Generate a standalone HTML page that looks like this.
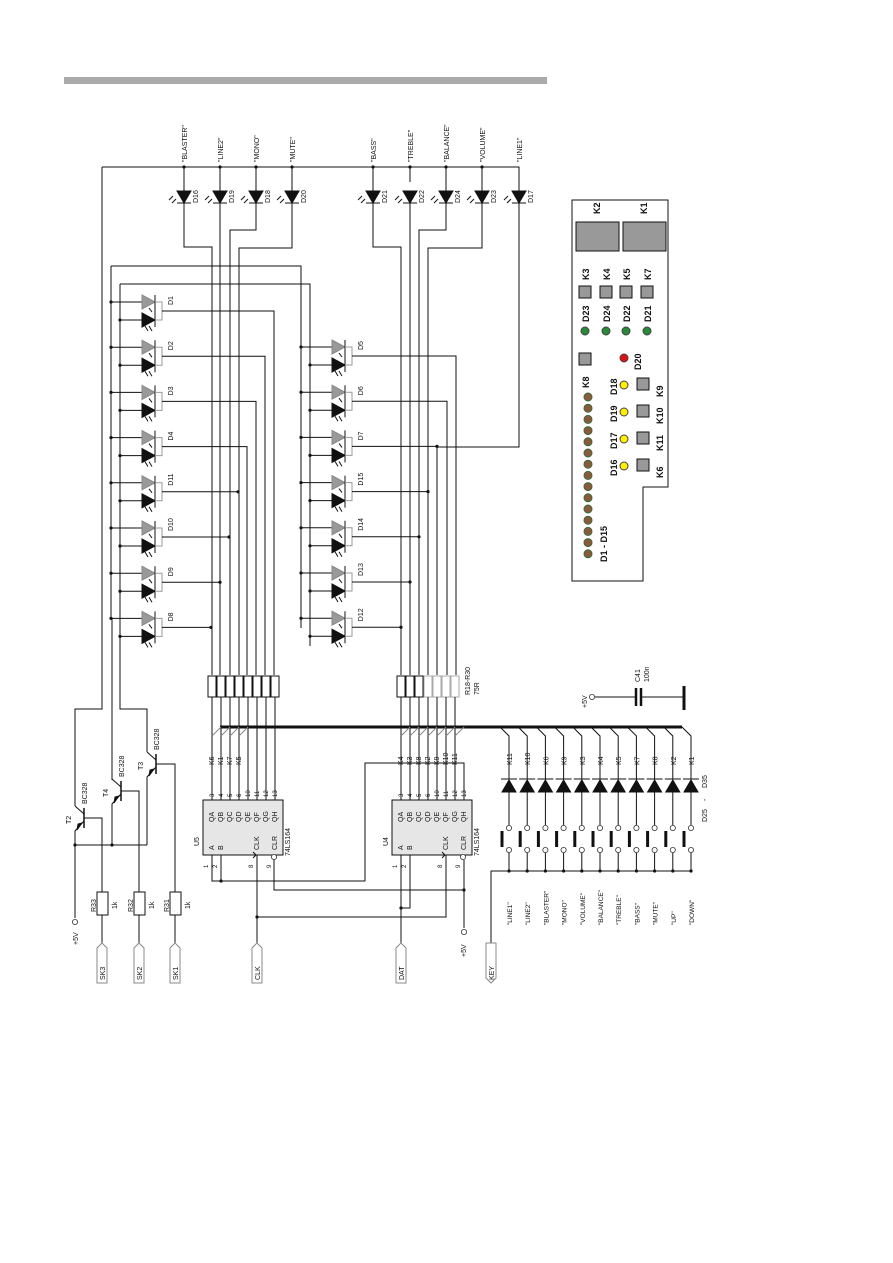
<!DOCTYPE html>
<html><head><meta charset="utf-8"><style>
html,body{margin:0;padding:0;background:#fff}
svg{display:block}
text{font-family:"Liberation Sans",sans-serif;font-size:7px;fill:#111}
</style></head><body>
<svg id="s" width="893" height="1263" viewBox="0 0 893 1263" xmlns="http://www.w3.org/2000/svg">
<rect x="64" y="77" width="483" height="7" fill="#aaa"/>
<g id="g" stroke="#111" stroke-width="1" fill="none"></g>
<g id="t"></g>
</svg>
<script>
(function(){
var g=document.getElementById('g'),T=document.getElementById('t'),NS='http://www.w3.org/2000/svg';
function el(p,n,a){var e=document.createElementNS(NS,n);for(var k in a)e.setAttribute(k,a[k]);p.appendChild(e);return e;}
function L(pts,c,w){el(g,'polyline',{points:pts,stroke:c||'#111','stroke-width':w||1});}
function dot(x,y){el(g,'circle',{cx:x,cy:y,r:1.6,fill:'#111',stroke:'none'});}
function oc(x,y){el(g,'circle',{cx:x,cy:y,r:2.6,fill:'#fff',stroke:'#333','stroke-width':0.8});}
function tx(x,y,s,rot,sz,anch,bold){var e=el(T,'text',{x:x,y:y});if(rot)e.setAttribute('transform','rotate(-90 '+x+' '+y+')');var st='';if(sz)st+='font-size:'+sz+'px;';if(bold)st+='font-weight:bold;';if(st)e.setAttribute('style',st);if(anch)e.setAttribute('text-anchor',anch);e.textContent=s;}
L('102,167 519,167 519,191');
var tops=[[184,'"BLASTER"','D16'],[220,'"LINE2"','D19'],[256,'"MONO"','D18'],[292,'"MUTE"','D20'],[373,'"BASS"','D21'],[410,'"TREBLE"','D22'],[446,'"BALANCE"','D24'],[482,'"VOLUME"','D23'],[519,'"LINE1"','D17']];
tops.forEach(function(a){var x=a[0];
 if(x!=519){dot(x,167);} if(x==410)L('410,167 410,182');
 if(x!=410&&x!=519)L(x+',167 '+x+',191');
 tx(x+3,162,a[1],1);
 el(g,'polygon',{points:(x-7)+',191 '+(x+7)+',191 '+x+',203',fill:'#111'});
 L((x-7)+',203 '+(x+7)+',203');
 L((x-11)+',196 '+(x-15)+',200');L((x-8)+',199 '+(x-12)+',203');
 tx(x+14,203,a[2],1);
});
L('184,203 184,247 212,247 212,675');L('220,203 220,675');L('256,203 256,230 230,230 230,675');L('292,203 292,248 239,248 239,675');
L('373,203 373,247 401,247 401,675');L('410,203 410,675');L('446,203 446,230 419,230 419,675');L('482,203 482,248 428,248 428,675');
L('519,203 519,447 437,447');
L('111,266 301,266 301,628');L('120,284 310,284 310,646');
L('111,266 111,618');L('120,284 120,709 147,709 147,752');
L('102,167 102,709 75,709 75,806');
L('112,618 112,780');
function pair(x0,y,lab){
 var bx=x0,by=x0+9;
 dot(bx,y);dot(by,y+18);
 L(bx+','+y+' '+(x0+31)+','+y);L(by+','+(y+18)+' '+(x0+31)+','+(y+18));
 el(g,'polygon',{points:(x0+31)+','+(y-7)+' '+(x0+31)+','+(y+7)+' '+(x0+44)+','+y,fill:'#999',stroke:'#888'});
 el(g,'polygon',{points:(x0+31)+','+(y+11)+' '+(x0+31)+','+(y+25)+' '+(x0+44)+','+(y+18),fill:'#111'});
 L((x0+44)+','+(y-7)+' '+(x0+44)+','+(y+25));
 L((x0+44)+','+y+' '+(x0+51)+','+y+' '+(x0+51)+','+(y+18)+' '+(x0+44)+','+(y+18),'#999');
 L((x0+38)+','+(y+6)+' '+(x0+41)+','+(y+10));L((x0+38)+','+(y+24)+' '+(x0+41)+','+(y+29));L((x0+34)+','+(y+24)+' '+(x0+37)+','+(y+29));
 tx(x0+62,y+3,lab,1);
}
var lm=[['D1',274],['D2',265],['D3',256],['D4',247],['D11',238],['D10',229],['D9',220],['D8',211]];
lm.forEach(function(a,i){var y=302+i*45.2;pair(111,y,a[0]);
 var oy=y+9;L('162,'+oy+' '+a[1]+','+oy+(i<4?' '+a[1]+',675':''));if(i>=4)dot(a[1],oy);});
var rm=[['D5',456],['D6',447],['D7',437],['D15',428],['D14',419],['D13',410],['D12',401]];
rm.forEach(function(a,i){var y=347+i*45.2;pair(301,y,a[0]);
 var oy=y+9;L('352,'+oy+' '+a[1]+','+oy+(i<2?' '+a[1]+',675':''));if(i>=2)dot(a[1],oy);});
var lx=[212,221,230,239,248,257,266,275],rx=[401,410,419,428,437,446,455];
lx.forEach(function(x){el(g,'rect',{x:x-4,y:676,width:8,height:21,fill:'#fff'});L(x+',697 '+x+',800');});
rx.forEach(function(x,i){el(g,'rect',{x:x-4,y:676,width:8,height:21,fill:'#fff',stroke:i<3?'#111':'#aaa'});L(x+',697 '+x+',800');});
L('437,447 437,675');
tx(470,695,'R18-R30',1);tx(479,695,'75R',1);
L('220,727 682,727','#111',3);
[212,221,230,239].forEach(function(x){L(x+',736 '+(x+9)+',727','#888');});
rx.forEach(function(x){L(x+',736 '+(x+9)+',727','#888');});
['K6','K1','K7','K5'].forEach(function(k,i){tx(lx[i]+2,765,k,1);});
['K4','K3','K8','K2','K9','K10','K11'].forEach(function(k,i){tx(rx[i]+2,765,k,1);});
function chip(x0,name){el(g,'rect',{x:x0,y:800,width:80,height:55,fill:'#e6e6e6'});
 var q=['QA','QB','QC','QD','QE','QF','QG','QH'],p=['3','4','5','6','10','11','12','13'];
 q.forEach(function(s,i){var x=x0+8+i*9;tx(x+3,822,s,1);tx(x+3,797,p[i],1,6);});
 tx(x0+11,850,'A',1);tx(x0+20,850,'B',1);tx(x0+56,850,'CLK',1);tx(x0+74,850,'CLR',1);tx(x0+87,856,'74LS164',1);tx(x0-4,846,name,1);
 tx(x0+5,868,'1',1,6);tx(x0+14,868,'2',1,6);tx(x0+50,868,'8',1,6);tx(x0+68,868,'9',1,6);
 L((x0+50)+',852 '+(x0+53)+',855 '+(x0+50)+',858');oc(x0+71,857);}
chip(203,'U5');chip(392,'U4');
L('212,855 212,881 365,881 365,763 464,763 464,800');L('221,855 221,881');dot(221,881);
L('257,855 257,945');L('257,917 446,917 446,855');dot(257,917);
L('274,860 274,890 464,890 464,860');dot(464,890);L('464,890 464,928');oc(464,932);tx(466,957,'+5V',1);
L('401,855 401,945');L('410,855 410,908 401,908');dot(401,908);
function tr(x,yb,baseX,lab){L(x+','+(yb-12)+' '+(x+9)+','+(yb-4));L((x+9)+','+(yb-10)+' '+(x+9)+','+(yb+10),'#111',1.5);
 L((x+9)+','+(yb+3)+' '+x+','+(yb+13)+' '+x+',845');el(g,'polygon',{points:(x+2)+','+(yb+12)+' '+(x+7)+','+(yb+5)+' '+(x+3)+','+(yb+6),fill:'#111'});
 L((x+9)+','+yb+' '+baseX+','+yb+' '+baseX+',892');tx(x+12,yb-14,'BC328',1);tx(x-4,yb+6,lab,1);}
tr(75,818,102,'T2');tr(112,791,139,'T4');tr(147,764,175,'T3');
L('75,845 147,845');dot(75,845);dot(112,845);
L('75,845 75,918');oc(75,922);tx(78,945,'+5V',1);
[[102,'R33'],[139,'R32'],[175,'R31']].forEach(function(a){var x=a[0];
 el(g,'rect',{x:x-5,y:892,width:11,height:23,fill:'#fff'});L(x+',915 '+x+',943');tx(x-6,912,a[1],1);tx(x+15,909,'1k',1);});
function tag(x,s,dn){var p=dn?(x-5)+',943 '+(x+5)+',943 '+(x+5)+',978 '+x+',983 '+(x-5)+',978':x+',943 '+(x+5)+',948 '+(x+5)+',983 '+(x-5)+',983 '+(x-5)+',948';
 el(g,'polygon',{points:p,fill:'#fff',stroke:'#888'});tx(x+3,980,s,1);}
tag(102,'SK3');tag(139,'SK2');tag(175,'SK1');tag(257,'CLK');tag(401,'DAT');
var kx=[],kn=['K11','K10','K6','K9','K3','K4','K5','K7','K8','K2','K1'],nm=['"LINE1"','"LINE2"','"BLASTER"','"MONO"','"VOLUME"','"BALANCE"','"TREBLE"','"BASS"','"MUTE"','"UP"','"DOWN"'];
for(var i=0;i<11;i++)kx.push(509+i*18.2);
L('491,945 491,871 '+kx[10]+',871');
kx.forEach(function(x,i){L((x-9)+',727 '+x+',736 '+x+',779');
 el(g,'polygon',{points:(x-7)+',792 '+(x+7)+',792 '+x+',780',fill:'#111'});L((x-8)+',779 '+(x+8)+',779');
 L(x+',792 '+x+',825');oc(x,828);oc(x,850);L((x-7)+',831 '+(x-7)+',847','#111',3);L(x+',853 '+x+',871');dot(x,871);
 tx(x+3,765,kn[i],1);tx(x+3,925,nm[i],1,6.5);});
tag(491,'KEY',true);
tx(707,788,'D35',1);tx(707,822,'D25',1);tx(707,801,'-',1);
oc(592,697);L('595,697 636,697');L('636,688 636,706','#111',2.5);L('641,688 641,706','#111',2.5);L('641,697 684,697');L('684,686 684,710','#111',3);
tx(587,708,'+5V',1);tx(640,682,'C41',1);tx(649,682,'100n',1);
el(g,'polygon',{points:'572,200 668,200 668,487 643,487 643,581 572,581',fill:'#fff'});
el(g,'rect',{x:576,y:222,width:43,height:29,fill:'#999'});el(g,'rect',{x:623,y:222,width:43,height:29,fill:'#999'});
tx(600,214,'K2',1,9,null,1);tx(647,214,'K1',1,9,null,1);
[[579,'K3','D23'],[600,'K4','D24'],[620,'K5','D22'],[641,'K7','D21']].forEach(function(a){var x=a[0];
 el(g,'rect',{x:x,y:286,width:12,height:12,fill:'#999'});tx(x+10,280,a[1],1,9,null,1);tx(x+10,322,a[2],1,9,null,1);
 el(g,'circle',{cx:x+6,cy:331,r:4,fill:'#2a8a3a',stroke:'#444'});});
el(g,'rect',{x:579,y:353,width:12,height:12,fill:'#999'});tx(589,388,'K8',1,9,null,1);
el(g,'circle',{cx:624,cy:358,r:4,fill:'#e01010',stroke:'#444'});tx(641,370,'D20',1,9,null,1);
[['D18','K9'],['D19','K10'],['D17','K11'],['D16','K6']].forEach(function(a,i){var y=385+i*27;
 el(g,'circle',{cx:624,cy:y,r:4,fill:'#ffee00',stroke:'#444'});tx(617,y+10,a[0],1,9,null,1);
 el(g,'rect',{x:637,y:y-7,width:12,height:12,fill:'#999'});tx(663,y+12,a[1],1,9,null,1);});
for(var j=0;j<15;j++)el(g,'circle',{cx:588,cy:397+j*11.2,r:4,fill:'#8a5a3a',stroke:'#3a6a3a'});
tx(607,562,'D1 - D15',1,9,null,1);
})();
</script>
</body></html>
